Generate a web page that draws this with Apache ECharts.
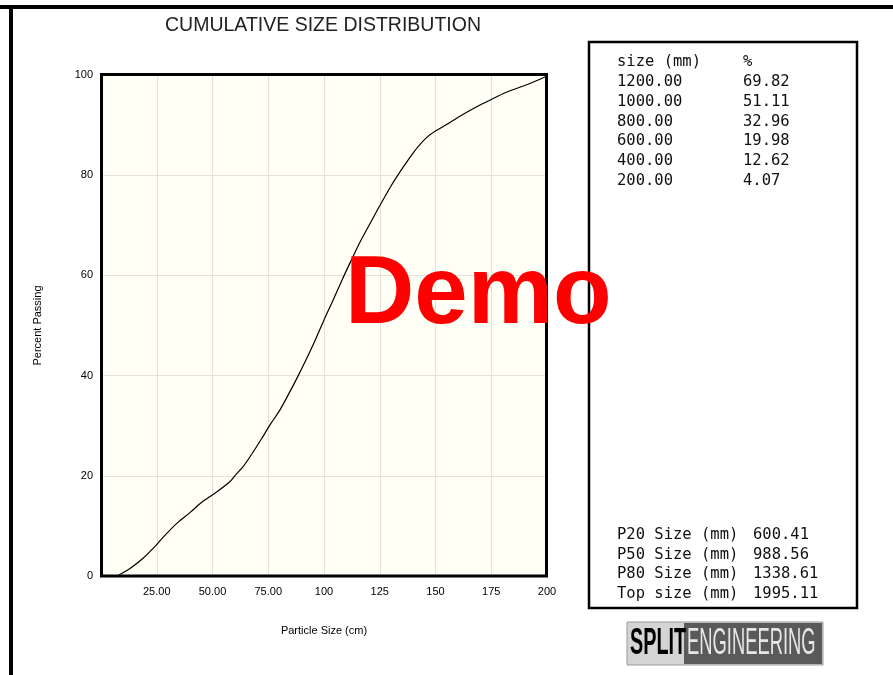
<html>
<head>
    <meta charset="utf-8">
    <title>Cumulative Size Distribution</title>
    <script src="https://cdn.jsdelivr.net/npm/echarts@6.0.0/dist/echarts.min.js"></script>
    <style>
        html, body { margin: 0; padding: 0; background: #fff; }
    </style>
</head>

<body>
<div id="main" style="width: 893px; height: 675px"></div>
</body>
<script>

    // curve: particle size (cm) vs percent passing
    var sizeCm = [8, 13, 19, 24, 28, 34, 40, 46, 52, 58, 60, 64, 68, 72, 76, 80, 84, 88, 92, 96,
        100, 104, 108, 112, 116, 120, 125, 130, 134, 138, 142, 146, 150, 155, 160, 165, 170, 175,
        180, 185, 190, 195, 199.5]
    var passing = [0.2, 1.5, 3.6, 5.8, 7.8, 10.5, 12.7, 15.0, 16.8, 18.9, 19.98, 22.0, 24.6, 27.4, 30.3,
        32.96, 36.2, 39.6, 43.2, 47.0, 51.11, 55.0, 59.0, 62.8, 66.5, 69.82, 73.9, 77.8, 80.6, 83.2,
        85.6, 87.5, 88.8, 90.1, 91.5, 92.8, 94.0, 95.1, 96.2, 97.1, 97.9, 98.8, 99.7]

    // table on the right
    var tableSizes = ['1200.00', '1000.00', '800.00', '600.00', '400.00', '200.00']
    var tablePercents = ['69.82', '51.11', '32.96', '19.98', '12.62', '4.07']
    var pLabels = ['P20 Size (mm)', 'P50 Size (mm)', 'P80 Size (mm)', 'Top size (mm)']
    var pValues = ['600.41', '988.56', '1338.61', '1995.11']

    var myChart = echarts.init(document.getElementById('main'))

    var monoFont = '15.5px "DejaVu Sans Mono", "Liberation Mono", monospace'

    var graphics = [
        // outer frame (top and left)
        {type: 'rect', shape: {x: 0, y: 5, width: 893, height: 4}, style: {fill: '#000'}},
        {type: 'rect', shape: {x: 9, y: 5, width: 4, height: 670}, style: {fill: '#000'}},
        {
            type: 'text', x: 323, y: 26,
            style: {
                text: 'CUMULATIVE SIZE DISTRIBUTION', fill: '#222', align: 'center', verticalAlign: 'middle',
                font: '19.5px "Liberation Sans", Arial, sans-serif'
            }
        },
        // plot frame
        {
            type: 'rect', z: 50, shape: {x: 101.5, y: 74.5, width: 445, height: 501.5},
            style: {fill: null, stroke: '#000', lineWidth: 3}
        },
        // table box
        {
            type: 'rect', shape: {x: 589, y: 42, width: 268, height: 566},
            style: {fill: '#fff', stroke: '#000', lineWidth: 2.5}
        },
        {type: 'text', x: 617, y: 62, style: {text: 'size (mm)', fill: '#111', verticalAlign: 'middle', font: monoFont}},
        {type: 'text', x: 743, y: 62, style: {text: '%', fill: '#111', verticalAlign: 'middle', font: monoFont}}
    ]

    tableSizes.forEach(function (s, i) {
        graphics.push({type: 'text', x: 617, y: 82 + i * 19.8, style: {text: s, fill: '#111', verticalAlign: 'middle', font: monoFont}})
        graphics.push({type: 'text', x: 743, y: 82 + i * 19.8, style: {text: tablePercents[i], fill: '#111', verticalAlign: 'middle', font: monoFont}})
    })

    pLabels.forEach(function (s, i) {
        graphics.push({type: 'text', x: 617, y: 535 + i * 19.7, style: {text: s, fill: '#111', verticalAlign: 'middle', font: monoFont}})
        graphics.push({type: 'text', x: 753, y: 535 + i * 19.7, style: {text: pValues[i], fill: '#111', verticalAlign: 'middle', font: monoFont}})
    })

    // logo
    graphics.push({type: 'rect', shape: {x: 627, y: 622, width: 196, height: 43}, style: {fill: '#d4d4d4', stroke: '#999', lineWidth: 1}})
    graphics.push({type: 'rect', shape: {x: 684, y: 623, width: 138, height: 41}, style: {fill: '#5a5a5a'}})
    graphics.push({
        type: 'text', x: 630, y: 644, scaleX: 0.55,
        style: {text: 'SPLIT', fill: '#000', verticalAlign: 'middle', font: 'bold 36px "Liberation Sans", Arial, sans-serif'}
    })
    graphics.push({
        type: 'text', x: 687, y: 644, scaleX: 0.51,
        style: {text: 'ENGINEERING', fill: '#e6e6e6', verticalAlign: 'middle', font: '36px "Liberation Sans", Arial, sans-serif'}
    })

    // watermark
    graphics.push({
        type: 'text', x: 345, y: 297, z: 100,
        style: {text: 'Demo', fill: '#ff0000', verticalAlign: 'middle', font: 'bold 96px "Liberation Sans", Arial, sans-serif'}
    })

    var labelFont = {fontFamily: '"Liberation Sans", Arial, sans-serif', fontSize: 11, color: '#000'}

    myChart.setOption({
        animation: false,
        backgroundColor: '#fff',
        grid: {
            left: 101, right: 346, top: 75, bottom: 99,
            show: true, backgroundColor: '#fffff5', borderWidth: 0
        },
        xAxis: {
            type: 'value', min: 0, max: 200, interval: 25,
            name: 'Particle Size (cm)', nameLocation: 'middle', nameGap: 49,
            nameTextStyle: labelFont,
            axisLine: {show: false}, axisTick: {show: false},
            axisLabel: Object.assign({
                margin: 10, showMinLabel: false,
                formatter: function (v) { return v < 100 ? v.toFixed(2) : String(v) }
            }, labelFont),
            splitLine: {show: true, lineStyle: {color: '#e4e2da', width: 1}}
        },
        yAxis: {
            type: 'value', min: 0, max: 100, interval: 20,
            name: 'Percent Passing', nameLocation: 'middle', nameGap: 58,
            nameTextStyle: labelFont,
            axisLine: {show: false}, axisTick: {show: false},
            axisLabel: Object.assign({margin: 8}, labelFont),
            splitLine: {show: true, lineStyle: {color: '#e4e2da', width: 1}}
        },
        series: [{
            type: 'line',
            data: sizeCm.map(function (x, i) { return [x, passing[i]] }),
            smooth: 0.3,
            showSymbol: false,
            lineStyle: {color: '#000', width: 1.2},
            z: 5
        }],
        graphic: graphics
    })
</script>
</html>
